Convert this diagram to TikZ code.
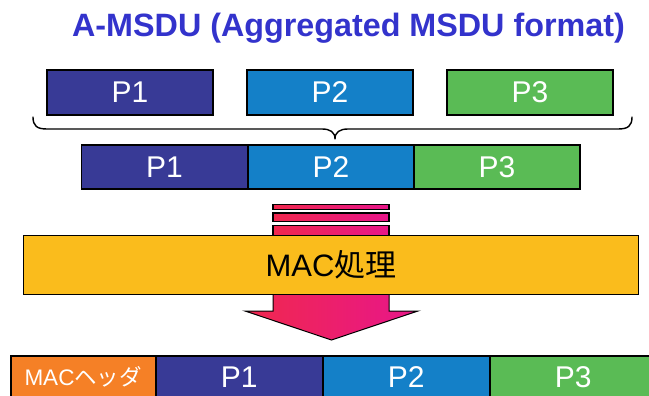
\documentclass[tikz,border=0pt]{standalone}
\usepackage{fontspec}
\setmainfont{Liberation Sans}
\newfontfamily\jpfont{Noto Sans CJK JP}
\usetikzlibrary{calc}

\definecolor{pone}{RGB}{56,58,150}
\definecolor{ptwo}{RGB}{20,128,200}
\definecolor{pthree}{RGB}{90,187,85}
\definecolor{hdr}{RGB}{245,128,38}
\definecolor{gold}{RGB}{250,188,28}
\definecolor{titleblue}{RGB}{51,51,204}
\definecolor{arrred}{RGB}{240,40,78}
\definecolor{arrmag}{RGB}{232,22,138}

\tikzset{
  seg/.style={draw=black, line width=1.5pt, text=white, inner sep=0pt,
    font=\fontsize{30}{32}\selectfont},
  lbl/.style={text=white, font=\fontsize{30}{32}\selectfont, inner sep=0pt},
  bar/.style={draw=black, line width=1.4pt, left color=arrred, right color=arrmag},
}

\begin{document}
\begin{tikzpicture}[x=1pt, y=-1pt]
  \useasboundingbox (0,0) rectangle (649,396);
  \clip (0,0) rectangle (649,396);

  % title
  \node[text=titleblue, font=\bfseries\fontsize{32.3}{34}\selectfont] (title) at (348.5,28.5) {A-MSDU (Aggregated MSDU format)};

  % separate MSDUs
  \node[seg, fill=pone, minimum width=166pt, minimum height=45pt] (a1) at (130,92.5) {P1};
  \node[seg, fill=ptwo, minimum width=166pt, minimum height=45pt] (a2) at (330,92.5) {P2};
  \node[seg, fill=pthree, minimum width=166pt, minimum height=45pt] (a3) at (530,92.5) {P3};

  % brace gathering the three MSDUs
  \coordinate (bl) at (33,117);
  \coordinate (br) at (632,117);
  \coordinate (btip) at (335,139);
  \draw[line width=1.4pt, line cap=round, line join=round]
    (bl) .. controls (33,126) and (37,129) .. (47,129)
    -- (322,129) .. controls (330,129) and (335,132) .. (btip)
    .. controls (335,132) and (340,129) .. (348,129)
    -- (618,129) .. controls (628,129) and (632,126) .. (br);

  % aggregated MSDU
  \node[seg, fill=pone, minimum width=166pt, minimum height=44pt] (b1) at (164.5,167) {P1};
  \node[seg, fill=ptwo, minimum width=166pt, minimum height=44pt] (b2) at (331,167) {P2};
  \node[seg, fill=pthree, minimum width=166pt, minimum height=44pt] (b3) at (497,167) {P3};

  % stacked bars feeding the MAC block
  \path[bar] (273,204.5) rectangle (389,209.5);
  \path[bar] (273,213) rectangle (389,221.5);
  \path[bar] (273,225.5) rectangle (389,240);

  % arrow leaving the MAC block
  \coordinate (tip) at (331.5,340);
  \path[draw=black, line width=1pt, line join=miter, left color=arrred, right color=arrmag]
    (273,285) -- (273,311) -- (245,311) -- (tip) -- (418,311) -- (389,311) -- (389,285) -- cycle;

  % MAC processing block
  \node[draw=black, line width=1.5pt, fill=gold, minimum width=615pt, minimum height=59pt, inner sep=0pt,
        font=\fontsize{31}{33}\selectfont] (mac) at (331,265) {MAC{\jpfont 処理}};

  % MAC frame
  \node[seg, fill=hdr, minimum width=145pt, minimum height=50pt, anchor=north west] (hd) at (10,355) {};
  \node[lbl, font=\fontsize{22.5}{24}\selectfont] at ($(hd.north)+(0,22)$) {MAC{\jpfont ヘッダ}};
  \node[seg, fill=pone, minimum width=167pt, minimum height=50pt, anchor=north west] (c1) at (155,355) {};
  \node[lbl] at ($(c1.north)+(0,22)$) {P1};
  \node[seg, fill=ptwo, minimum width=167pt, minimum height=50pt, anchor=north west] (c2) at (322,355) {};
  \node[lbl] at ($(c2.north)+(0,22)$) {P2};
  \node[seg, fill=pthree, minimum width=167pt, minimum height=50pt, anchor=north west] (c3) at (489,355) {};
  \node[lbl] at ($(c3.north)+(0,22)$) {P3};
\end{tikzpicture}
\end{document}
